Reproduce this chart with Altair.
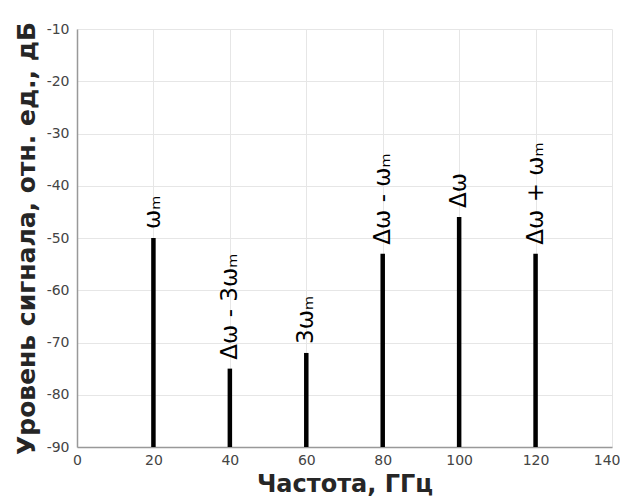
import altair as alt
import pandas as pd

freqs = [20, 40, 60, 80, 100, 120]
levels = [-50, -75, -72, -53, -46, -53]
labels = ["ωₘ", "Δω - 3ωₘ", "3ωₘ", "Δω - ωₘ", "Δω", "Δω + ωₘ"]
y_floor = -90

df = pd.DataFrame({"freq": freqs, "level": levels, "label": labels})

x_enc = alt.X(
    "freq:Q",
    scale=alt.Scale(domain=[0, 140], nice=False, zero=False),
    axis=alt.Axis(
        values=[0, 20, 40, 60, 80, 100, 120, 140],
        title="Частота, ГГц",
        titleX=267.5,
        titleY=44,
        titleFontSize=24,
        titleAlign="center",
        titleBaseline="alphabetic",
        labelPadding=6,
        labelFlush=False,
        labelAlign={"condition": {"test": "datum.value == 140", "value": "right"}, "value": "center"},
        labelOffset={"condition": {"test": "datum.value == 140", "value": 8}, "value": 0},
        labelExpr="toString(datum.value)",
    ),
)
y_enc = alt.Y(
    "level:Q",
    scale=alt.Scale(domain=[-90, -10], nice=False, zero=False),
    axis=alt.Axis(
        values=list(range(-90, 0, 10)),
        title="Уровень сигнала, отн. ед., дБ",
        titleX=-51,
        titleY=209,
        titleAngle=270,
        titleAlign="center",
        titleBaseline="middle",
        labelPadding=8,
        labelExpr="toString(datum.value)",
    ),
)

base = alt.Chart(df)

bars = base.mark_rule(color="black", strokeWidth=4.5).encode(
    x=x_enc, y=y_enc, y2=alt.datum(y_floor)
)

texts = base.mark_text(
    angle=270, align="left", baseline="middle", dx=9,
    fontSize=23, font="DejaVu Sans", color="black",
).encode(x="freq:Q", y="level:Q", text="label:N")

chart = (
    alt.layer(bars, texts)
    .properties(
        width=535, height=418,
        autosize=alt.AutoSizeParams(type="none"),
        padding={"left": 69, "top": 21, "right": 8, "bottom": 49},
    )
    .configure_view(stroke=None)
    .configure_axis(
        grid=True,
        gridColor="#e6e6e6",
        gridWidth=1,
        domainColor="#999999",
        domainWidth=1.5,
        ticks=False,
        labelFont="DejaVu Sans",
        labelFontSize=14,
        labelColor="#444444",
        titleFont="DejaVu Sans",
        titleFontSize=25,
        titleFontWeight="bold",
        titleColor="#262626",
    )
)

chart.save("out.html", embed_options={"renderer": "svg", "actions": False})
